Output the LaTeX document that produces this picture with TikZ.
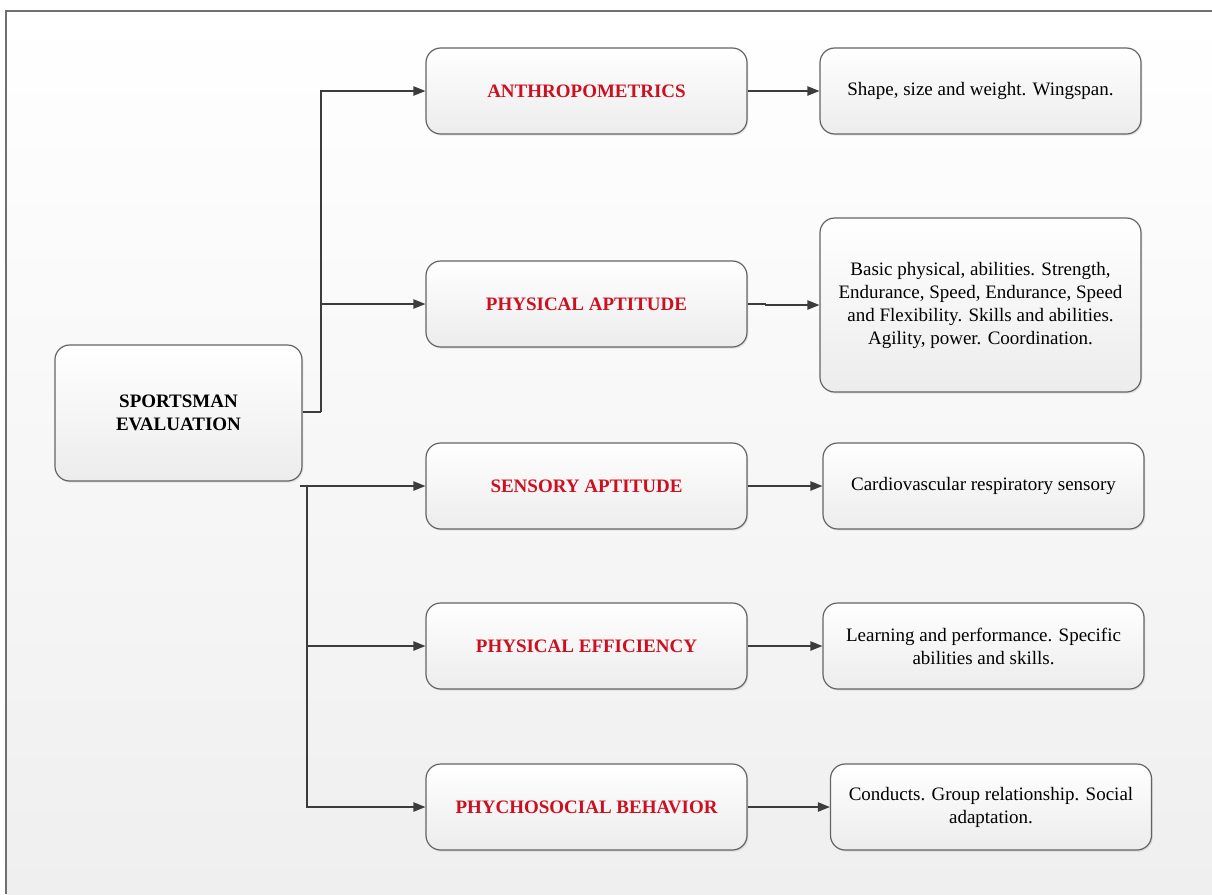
\documentclass[tikz,border=0pt]{standalone}
\usepackage{fontspec}
\setmainfont{Liberation Serif}
\usetikzlibrary{arrows.meta,shadows}
\definecolor{frameline}{RGB}{112,112,112}
\definecolor{boxline}{RGB}{100,100,100}
\definecolor{boxbottom}{RGB}{236,236,236}
\definecolor{pagebottom}{RGB}{239,239,239}
\definecolor{connline}{RGB}{60,60,60}
\definecolor{headred}{RGB}{204,16,32}
\tikzset{
  card/.style={draw=boxline, line width=0.9pt, rounded corners=11pt,
    top color=white, bottom color=boxbottom, align=center,
    font=\fontsize{14.25}{17.25}\selectfont, inner sep=4pt,
    drop shadow={opacity=0.18, shadow xshift=1pt, shadow yshift=-1.2pt}},
  midcard/.style={card, minimum width=240.75pt, minimum height=64.5pt,
    text=headred, font=\fontsize{14.25}{17.25}\selectfont\bfseries},
  infocard/.style={card, minimum width=240.75pt, minimum height=64.5pt},
  conn/.style={draw=connline, line width=0.9pt,
    -{Triangle[length=9pt,width=7pt]}},
  link/.style={draw=connline, line width=0.9pt}
}
\begin{document}
\begin{tikzpicture}[x=0.75pt,y=-0.75pt]
  \useasboundingbox (0,0) rectangle (1212,894);
  % page background and frame
  \shade[top color=white, bottom color=pagebottom] (6,11) rectangle (1212,894);
  \draw[frameline, line width=1.3pt] (1212,11) -- (6,11) -- (6,894);

  % root
  \node[card, minimum width=185.25pt, minimum height=102pt,
        font=\fontsize{14.25}{17.25}\selectfont\bfseries] (sp) at (178.5,413)
        {SPORTSMAN\\EVALUATION};

  % categories
  \node[midcard] (an) at (586.5,91)  {ANTHROPOMETRICS};
  \node[midcard] (pa) at (586.5,304) {PHYSICAL APTITUDE};
  \node[midcard] (sa) at (586.5,486) {SENSORY APTITUDE};
  \node[midcard] (pe) at (586.5,646) {PHYSICAL EFFICIENCY};
  \node[midcard] (pb) at (586.5,807) {PHYCHOSOCIAL BEHAVIOR};

  % descriptions
  \node[infocard] (d1) at (980.5,91)  {Shape, size and weight. Wingspan.};
  \node[infocard, minimum height=130.5pt] (d2) at (980.5,305)
        {Basic physical, abilities. Strength,\\Endurance, Speed, Endurance, Speed\\and Flexibility. Skills and abilities.\\Agility, power. Coordination.};
  \node[infocard] (d3) at (983.5,486) {Cardiovascular respiratory sensory};
  \node[infocard] (d4) at (983.5,646) {Learning and performance. Specific\\abilities and skills.};
  \node[infocard] (d5) at (991,807) {Conducts. Group relationship. Social\\adaptation.};

  % junctions of the tree
  \coordinate (ja) at (321,412);
  \coordinate (jb) at (300,486);
  \coordinate (jc) at (307,486);

  % upper branch
  \draw[link] (sp.east |- ja) -- (ja);
  \draw[conn] (ja) |- (an.west);
  \draw[conn] (ja |- pa.west) -- (pa.west);

  % lower branch
  \draw[conn] (jb) -- (sa.west);
  \draw[conn] (jc) |- (pb.west);
  \draw[conn] (jc |- pe.west) -- (pe.west);

  % categories to descriptions
  \draw[conn] (an.east) -- (d1.west);
  \draw[conn] (pa.east) -- ++(18,0) |- (d2.west);
  \draw[conn] (sa.east) -- (d3.west);
  \draw[conn] (pe.east) -- (d4.west);
  \draw[conn] (pb.east) -- (d5.west);
\end{tikzpicture}
\end{document}
